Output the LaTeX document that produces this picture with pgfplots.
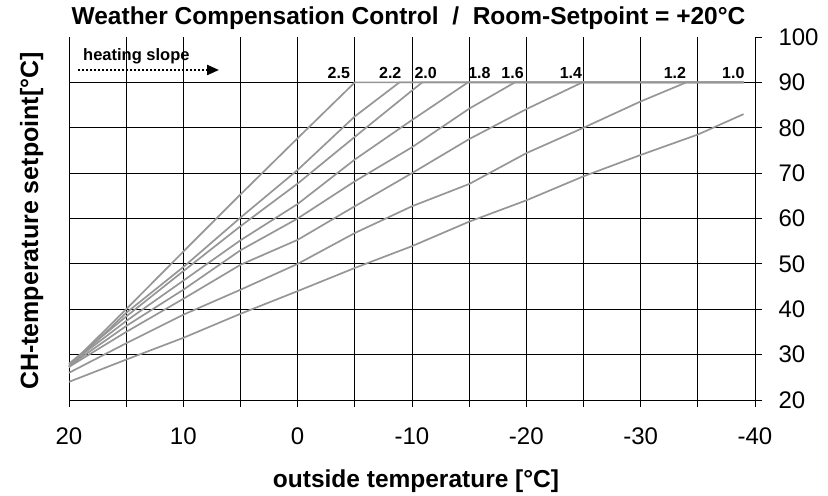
\documentclass[border=0pt]{standalone}
\usepackage{fontspec}
\setmainfont{Liberation Sans}
\usepackage{pgfplots}
\pgfplotsset{compat=1.18}
\usetikzlibrary{arrows.meta}
\definecolor{curve}{RGB}{150,150,150}
\begin{document}
\begin{tikzpicture}[x=1bp,y=1bp]
\useasboundingbox (0,0) rectangle (828,496);
\begin{axis}[
  at={(69bp,96bp)}, anchor=south west,
  scale only axis, width=686bp, height=363bp,
  x dir=reverse, xmin=-40, xmax=20, ymin=20, ymax=100,
  clip=false,
  axis x line*=bottom, axis y line*=right,
  axis line style={black, line width=0.8bp, -},
  xtick={20,10,0,-10,-20,-30,-40},
  xticklabels={20,10,0,-10,-20,-30,-40},
  minor xtick={15,5,-5,-15,-25,-35},
  xmajorgrids, xminorgrids,
  ytick={20,30,...,100},
  extra y ticks={30,40,...,90}, extra y tick labels={},
  extra y tick style={grid=major, major tick length=0pt},
  xtick pos=bottom, ytick pos=right, yticklabel pos=right,
  tick align=outside, major tick length=7bp, minor tick length=7bp,
  tick style={black, line width=0.8bp},
  grid style={black, line width=0.8bp},
  minor grid style={black, line width=0.8bp},
  /pgf/number format/assume math mode=true,
  ticklabel style={font=\fontsize{24bp}{26bp}\selectfont},
  xticklabel style={yshift=-17bp},
  yticklabel style={xshift=13bp},
]
% slope 2.5
\addplot[curve, line width=1.7bp] coordinates {(20,27.5) (15,40) (10,52.7) (5,65.3) (0,77.7) (-5,90) (-39,90)};
% slope 2.2
\addplot[curve, line width=1.7bp] coordinates {(20,27.2) (15,39.2) (10,49.3) (5,60.2) (0,70.7) (-5,82.5) (-8.9,90) (-39,90)};
% slope 2.0
\addplot[curve, line width=1.7bp] coordinates {(20,28) (15,38.4) (10,48.4) (5,58.3) (0,67.7) (-5,78) (-10,88.2) (-10.9,90) (-39,90)};
% slope 1.8
\addplot[curve, line width=1.7bp] coordinates {(20,27.8) (15,37.4) (10,46.3) (5,55.2) (0,63.2) (-5,73) (-10,81.7) (-14.9,90) (-39,90)};
% slope 1.6
\addplot[curve, line width=1.7bp] coordinates {(20,27.5) (15,36.3) (10,44.3) (5,53) (0,60) (-5,68.2) (-10,75.7) (-15,84.2) (-19,90) (-39,90)};
% slope 1.4
\addplot[curve, line width=1.7bp] coordinates {(20,27.3) (15,35) (10,42.3) (5,49.8) (0,55.3) (-5,62.7) (-10,70) (-15,77.5) (-20,84.1) (-24.9,90) (-39,90)};
% slope 1.2
\addplot[curve, line width=1.7bp] coordinates {(20,26) (15,32.5) (10,38.8) (5,44.3) (0,50) (-5,56.8) (-10,62.7) (-15,67.6) (-20,74.4) (-25,80) (-30,85.8) (-34,90) (-39,90)};
% slope 1.0
\addplot[curve, line width=1.7bp] coordinates {(20,24) (15,28.9) (10,33.7) (5,39) (0,44) (-5,49.1) (-10,53.9) (-15,59.3) (-20,64) (-25,69.3) (-30,74) (-35,78.5) (-39,83)};
\begin{scope}[every node/.style={anchor=base, inner sep=0pt, font=\bfseries\fontsize{16bp}{18bp}\selectfont}]
\node at (axis cs:-3.6,90.8) {2.5};
\node at (axis cs:-8.1,90.8) {2.2};
\node at (axis cs:-11.2,90.8) {2.0};
\node at (axis cs:-15.9,90.8) {1.8};
\node at (axis cs:-18.8,90.8) {1.6};
\node at (axis cs:-23.9,90.8) {1.4};
\node at (axis cs:-33.0,90.8) {1.2};
\node at (axis cs:-38.1,90.8) {1.0};
\end{scope}
\end{axis}
\node[anchor=base, inner sep=0pt, font=\bfseries\fontsize{24.5bp}{27bp}\selectfont] at (408.5,471) {Weather Compensation Control\ \ /\ \ Room-Setpoint = +20°C};
\node[anchor=base, inner sep=0pt, font=\bfseries\fontsize{24.5bp}{27bp}\selectfont] at (416,8) {outside temperature [°C]};
\node[anchor=base, inner sep=0pt, rotate=90, font=\bfseries\fontsize{25bp}{27bp}\selectfont] at (38,275) {CH-temperature setpoint[°C]};
\node[anchor=base west, inner sep=0pt, font=\bfseries\fontsize{16.5bp}{18bp}\selectfont] at (83,435) {heating slope};
\draw[line width=2.2bp, dash pattern=on 2bp off 2bp, -{Triangle[length=12bp,width=10bp]}] (78,426) -- (219,426);
\end{tikzpicture}
\end{document}
